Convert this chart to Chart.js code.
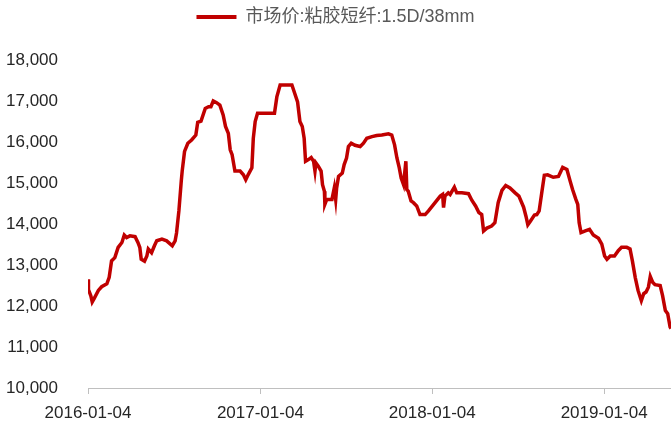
<!DOCTYPE html>
<html>
<head>
<meta charset="utf-8">
<script src="https://cdn.jsdelivr.net/npm/chart.js@4.4.1/dist/chart.umd.min.js"></script>
<style>
  html, body { margin: 0; padding: 0; background: #fff; }
  #wrap { width: 671px; height: 425px; }
</style>
</head>
<body>
<div id="wrap"><canvas id="priceChart"></canvas></div>
<script>
const seriesName = '市场价:粘胶短纤:1.5D/38mm';

const dates = [
    '2016-01-04', '2016-01-05', '2016-01-10', '2016-01-13', '2016-01-17', '2016-01-26',
    '2016-02-02', '2016-02-13', '2016-02-18', '2016-02-23', '2016-03-01', '2016-03-08',
    '2016-03-16', '2016-03-21', '2016-03-26', '2016-04-02', '2016-04-13', '2016-04-19',
    '2016-04-23', '2016-04-26', '2016-05-03', '2016-05-08', '2016-05-11', '2016-05-18',
    '2016-05-24', '2016-05-29', '2016-06-09', '2016-06-19', '2016-07-01', '2016-07-07',
    '2016-07-10', '2016-07-15', '2016-07-20', '2016-07-22', '2016-07-27', '2016-08-03',
    '2016-08-11', '2016-08-20', '2016-08-24', '2016-08-31', '2016-09-09', '2016-09-16',
    '2016-09-21', '2016-09-26', '2016-10-03', '2016-10-10', '2016-10-17', '2016-10-22',
    '2016-10-28', '2016-11-01', '2016-11-05', '2016-11-11', '2016-11-22', '2016-11-29',
    '2016-12-04', '2016-12-09', '2016-12-17', '2016-12-20', '2016-12-24', '2016-12-29',
    '2017-02-03', '2017-02-08', '2017-02-15', '2017-03-12', '2017-03-17', '2017-03-24',
    '2017-03-29', '2017-04-03', '2017-04-07', '2017-04-10', '2017-04-16', '2017-04-22',
    '2017-04-27', '2017-04-30', '2017-05-02', '2017-05-07', '2017-05-13', '2017-05-16',
    '2017-05-20', '2017-05-21', '2017-05-25', '2017-06-05', '2017-06-10', '2017-06-13',
    '2017-06-15', '2017-06-19', '2017-06-27', '2017-07-01', '2017-07-06', '2017-07-10',
    '2017-07-16', '2017-07-24', '2017-08-04', '2017-08-11', '2017-08-18', '2017-08-29',
    '2017-09-08', '2017-09-19', '2017-10-03', '2017-10-10', '2017-10-16', '2017-10-21',
    '2017-10-26', '2017-10-30', '2017-11-04', '2017-11-09', '2017-11-11', '2017-11-14',
    '2017-11-20', '2017-11-25', '2017-12-02', '2017-12-09', '2017-12-20', '2017-12-27',
    '2018-01-10', '2018-01-21', '2018-01-26', '2018-01-28', '2018-01-31', '2018-02-07',
    '2018-02-11', '2018-02-20', '2018-02-25', '2018-03-08', '2018-03-22', '2018-03-29',
    '2018-04-06', '2018-04-13', '2018-04-19', '2018-04-23', '2018-04-30', '2018-05-10',
    '2018-05-17', '2018-05-24', '2018-06-01', '2018-06-09', '2018-06-18', '2018-06-29',
    '2018-07-07', '2018-07-17', '2018-07-22', '2018-07-26', '2018-07-31', '2018-08-09',
    '2018-08-14', '2018-08-19', '2018-08-25', '2018-08-30', '2018-09-06', '2018-09-18',
    '2018-09-29', '2018-10-08', '2018-10-17', '2018-10-24', '2018-10-29', '2018-11-05',
    '2018-11-09', '2018-11-12', '2018-11-16', '2018-11-25', '2018-12-04', '2018-12-12',
    '2018-12-23', '2018-12-30', '2019-01-05', '2019-01-10', '2019-01-17', '2019-01-26',
    '2019-02-03', '2019-02-10', '2019-02-21', '2019-02-28', '2019-03-05', '2019-03-11',
    '2019-03-17', '2019-03-24', '2019-03-29', '2019-04-03', '2019-04-08', '2019-04-12',
    '2019-04-17', '2019-04-22', '2019-05-03', '2019-05-08', '2019-05-14', '2019-05-19',
    '2019-05-24', '2019-05-26'
];

const prices = [
    12650, 12400, 12250, 12100, 12180, 12380,
    12470, 12540, 12700, 13100, 13180, 13430,
    13550, 13730, 13670, 13710, 13690, 13550,
    13430, 13140, 13090, 13220, 13390, 13300,
    13470, 13590, 13630, 13590, 13470, 13590,
    13780, 14320, 15040, 15290, 15770, 15970,
    16050, 16170, 16480, 16510, 16820, 16860,
    16860, 17000, 16960, 16900, 16660, 16380,
    16210, 15810, 15690, 15290, 15290, 15200,
    15080, 15200, 15370, 16090, 16500, 16700,
    16700, 17100, 17390, 17390, 17220, 16980,
    16500, 16380, 16090, 15530, 15570, 15620,
    15530, 15290, 15490, 15410, 15290, 14960,
    14800, 14480, 14600, 14600, 14880, 14600,
    14880, 15160, 15240, 15450, 15610, 15890,
    15970, 15920, 15890, 15970, 16090, 16130,
    16160, 16170, 16200, 16170, 15930, 15610,
    15370, 15120, 14960, 15530, 14840, 14800,
    14560, 14520, 14440, 14230, 14230, 14320,
    14520, 14680, 14720, 14400, 14680, 14760,
    14720, 14900, 14760, 14760, 14740, 14580,
    14440, 14280, 14230, 13830, 13900, 13950,
    14030, 14520, 14820, 14940, 14880, 14760,
    14680, 14410, 14190, 13980, 14060, 14220,
    14230, 14320, 14800, 15190, 15200, 15140,
    15160, 15380, 15330, 15040, 14840, 14600,
    14480, 14030, 13790, 13830, 13870, 13730,
    13650, 13510, 13220, 13140, 13220, 13220,
    13350, 13430, 13430, 13390, 13100, 12700,
    12380, 12130, 12300, 12340, 12460, 12720,
    12580, 12520, 12500, 12260, 11890, 11810,
    11490, 11450
];

const tickDates = ['2016-01-04', '2017-01-04', '2018-01-04', '2019-01-04'];

const dayOf = s => (Date.parse(s) - Date.parse(dates[0])) / 864e5;

const fontFamily = "'Liberation Sans', 'Noto Sans CJK SC', sans-serif";

// push the plot area down a bit below the legend
const legendGap = {
    id: 'legendGap',
    beforeInit(chart) {
        const fit = chart.legend.fit;
        chart.legend.fit = function() {
            fit.bind(chart.legend)();
            this.height += 24;
        };
    }
};

new Chart(document.getElementById('priceChart'), {
    type: 'line',
    data: {
        datasets: [{
            label: seriesName,
            data: dates.map((d, i) => ({ x: dayOf(d), y: prices[i] })),
            borderColor: '#C00000',
            backgroundColor: '#C00000',
            borderWidth: 3.5,
            pointRadius: 0,
            tension: 0,
            fill: false
        }]
    },
    options: {
        responsive: true,
        maintainAspectRatio: false,
        animation: false,
        layout: { padding: { left: 0, right: 0, top: 0, bottom: 0 } },
        plugins: {
            legend: {
                position: 'top',
                labels: {
                    boxWidth: 40,
                    boxHeight: 4,
                    padding: 8,
                    color: '#595959',
                    font: { family: fontFamily, size: 18 },
                    generateLabels(chart) {
                        const items = Chart.defaults.plugins.legend.labels.generateLabels(chart);
                        items.forEach(it => { it.lineWidth = 0; });
                        return items;
                    }
                }
            },
            tooltip: { enabled: false }
        },
        scales: {
            x: {
                type: 'linear',
                min: 0,
                max: dayOf(dates[dates.length - 1]),
                afterBuildTicks(scale) {
                    scale.ticks = tickDates.map(d => ({ value: dayOf(d) }));
                },
                afterFit(scale) { scale.height = 37; },
                grid: {
                    display: true,
                    drawOnChartArea: false,
                    drawTicks: true,
                    tickLength: 6,
                    color: '#BFBFBF'
                },
                border: { display: true, color: '#BFBFBF', width: 1 },
                ticks: {
                    autoSkip: false,
                    maxRotation: 0,
                    padding: 9,
                    color: '#262626',
                    font: { family: fontFamily, size: 17 },
                    callback(value) {
                        const d = tickDates.find(t => dayOf(t) === value);
                        return d || '';
                    }
                }
            },
            y: {
                min: 10000,
                max: 18000,
                afterFit(scale) { scale.width = 88; },
                grid: { display: false },
                border: { display: false },
                ticks: {
                    stepSize: 1000,
                    padding: 22,
                    color: '#262626',
                    font: { family: fontFamily, size: 17 },
                    callback: v => v.toLocaleString('en-US')
                }
            }
        }
    },
    plugins: [legendGap]
});
</script>
</body>
</html>
